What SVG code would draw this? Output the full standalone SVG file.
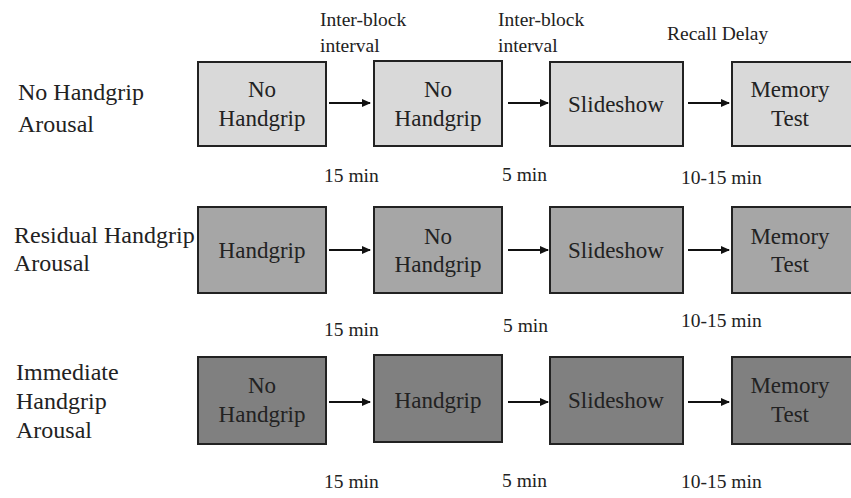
<svg xmlns="http://www.w3.org/2000/svg" width="851" height="498" viewBox="0 0 851 498" font-family="'Liberation Serif', 'DejaVu Serif', serif">
<style>
text{font-family:'Liberation Serif','DejaVu Serif',serif;fill:#222}
.bt{font-size:23px;text-anchor:middle}
.lt{font-size:24px}
.st{font-size:19.5px}
.box{stroke:#222;stroke-width:2}
.r1{fill:#d9d9d9}.r2{fill:#a6a6a6}.r3{fill:#808080}
.arr{stroke:#111;stroke-width:2.2;fill:none;marker-end:url(#ah)}
</style>
<defs>
<marker id="ah" markerWidth="10" markerHeight="10" refX="8" refY="5" orient="auto" markerUnits="userSpaceOnUse">
<path d="M0,1 L9,5 L0,9 Z" fill="#111"/>
</marker>
</defs>
<rect width="851" height="498" fill="#fff"/>

<g id="row-labels">
<text class="lt" x="18" y="100">No Handgrip</text>
<text class="lt" x="18" y="132">Arousal</text>
<text class="lt" x="14" y="243">Residual Handgrip</text>
<text class="lt" x="14" y="271">Arousal</text>
<text class="lt" x="16" y="380">Immediate</text>
<text class="lt" x="16" y="409">Handgrip</text>
<text class="lt" x="16" y="438">Arousal</text>
</g>

<g id="top-labels">
<text class="st" x="320" y="26">Inter-block</text>
<text class="st" x="320" y="52">interval</text>
<text class="st" x="498" y="26">Inter-block</text>
<text class="st" x="498" y="52">interval</text>
<text class="st" x="667" y="40">Recall Delay</text>
</g>

<g id="duration-labels">
<text class="st" x="324" y="182">15 min</text>
<text class="st" x="502" y="181">5 min</text>
<text class="st" x="681" y="184">10-15 min</text>
<text class="st" x="324" y="336">15 min</text>
<text class="st" x="503" y="332">5 min</text>
<text class="st" x="681" y="327">10-15 min</text>
<text class="st" x="324" y="488">15 min</text>
<text class="st" x="502" y="487">5 min</text>
<text class="st" x="681" y="488">10-15 min</text>
</g>

<g id="r1-b1"><rect class="box r1" x="198" y="62" width="128" height="84"/><text class="bt" x="262" y="97">No</text><text class="bt" x="262" y="126">Handgrip</text></g>
<g id="r1-b2"><rect class="box r1" x="374" y="61" width="128" height="85"/><text class="bt" x="438" y="97">No</text><text class="bt" x="438" y="126">Handgrip</text></g>
<g id="r1-b3"><rect class="box r1" x="550" y="62" width="133" height="84"/><text class="bt" x="616" y="112">Slideshow</text></g>
<g id="r1-b4"><rect class="box r1" x="732" y="62" width="130" height="84"/><text class="bt" x="790" y="97">Memory</text><text class="bt" x="790" y="126">Test</text></g>

<g id="r2-b1"><rect class="box r2" x="198" y="207" width="128" height="86"/><text class="bt" x="262" y="258">Handgrip</text></g>
<g id="r2-b2"><rect class="box r2" x="374" y="207" width="128" height="86"/><text class="bt" x="438" y="244">No</text><text class="bt" x="438" y="272">Handgrip</text></g>
<g id="r2-b3"><rect class="box r2" x="550" y="207" width="133" height="86"/><text class="bt" x="616" y="258">Slideshow</text></g>
<g id="r2-b4"><rect class="box r2" x="732" y="207" width="130" height="86"/><text class="bt" x="790" y="244">Memory</text><text class="bt" x="790" y="272">Test</text></g>

<g id="r3-b1"><rect class="box r3" x="198" y="357" width="128" height="87"/><text class="bt" x="262" y="393">No</text><text class="bt" x="262" y="422">Handgrip</text></g>
<g id="r3-b2"><rect class="box r3" x="374" y="355" width="128" height="87"/><text class="bt" x="438" y="408">Handgrip</text></g>
<g id="r3-b3"><rect class="box r3" x="550" y="357" width="133" height="87"/><text class="bt" x="616" y="408">Slideshow</text></g>
<g id="r3-b4"><rect class="box r3" x="732" y="357" width="130" height="87"/><text class="bt" x="790" y="393">Memory</text><text class="bt" x="790" y="422">Test</text></g>

<g id="connectors">
<line class="arr" x1="329" y1="103" x2="370" y2="103"/>
<line class="arr" x1="508" y1="103" x2="548" y2="103"/>
<line class="arr" x1="688" y1="103" x2="729" y2="103"/>
<line class="arr" x1="329" y1="250" x2="370" y2="250"/>
<line class="arr" x1="508" y1="250" x2="548" y2="250"/>
<line class="arr" x1="688" y1="250" x2="729" y2="250"/>
<line class="arr" x1="329" y1="402" x2="370" y2="402"/>
<line class="arr" x1="508" y1="402" x2="548" y2="402"/>
<line class="arr" x1="688" y1="402" x2="729" y2="402"/>
</g>
</svg>
